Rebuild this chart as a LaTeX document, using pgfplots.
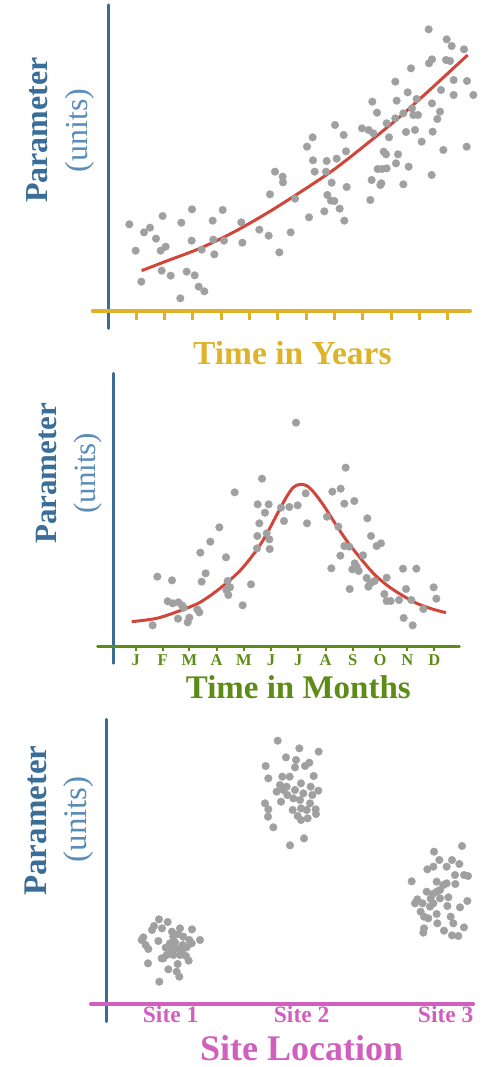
\documentclass[border=0pt]{standalone}
\usepackage{fontspec}
\setmainfont{Liberation Serif}
\usepackage{pgfplots}
\pgfplotsset{compat=1.18}
\definecolor{axblue}{HTML}{3B6C94}
\definecolor{parblue}{HTML}{3A6E98}
\definecolor{unitblue}{HTML}{5B8DB8}
\definecolor{yearcol}{HTML}{DDB32A}
\definecolor{monthcol}{HTML}{5C8C16}
\definecolor{sitecol}{HTML}{D15FBE}
\definecolor{redc}{HTML}{D1463A}
\definecolor{dotgray}{HTML}{A0A0A0}
\pgfplotsset{
  dots/.style={only marks, mark=*, mark size=3.8pt, color=dotgray},
  fitline/.style={smooth, no marks, color=redc, line width=3pt},
  panel/.style={scale only axis, clip=false, axis line style={draw=none}, ytick=\empty, xtick pos=left}
}
\begin{document}
\begin{tikzpicture}
\useasboundingbox (0,0) rectangle (490pt,-1067pt);
% ---------------- Panel 1 ----------------
\begin{axis}[panel, at={(92.667pt,-5pt)}, anchor=north west,
  width=377.333pt, height=306pt,
  xmin=278, xmax=1410, ymin=-933, ymax=-15,
  xtick={408,493,578,663,748,833,918,1003,1088,1173,1258,1343}, xticklabels={},
  tick align=outside, major tick length=9pt,
  xtick style={draw=yearcol, line width=3pt}]
\draw[axblue, line width=3.3pt, line cap=round] (axis cs:325,-15) -- (axis cs:325,-985);
\draw[yearcol, line width=4pt, line cap=round] (axis cs:278,-933) -- (axis cs:1410,-933);
\addplot[dots] coordinates {
(388,-673) (407,-752) (424,-845) (432,-697) (450,-683) (468,-716) (482,-752) (497,-740)
(488,-648) (485,-812) (512,-827) (544,-668) (541,-895) (560,-815) (576,-628) (575,-722)
(584,-826) (596,-860) (605,-749) (613,-874) (638,-662) (643,-763) (640,-719) (668,-630)
(672,-722) (724,-667) (727,-728) (778,-689) (806,-707) (810,-583) (825,-515) (838,-757)
(848,-530) (849,-547) (872,-697) (885,-596) (921,-440) (938,-412) (927,-652) (939,-481)
(944,-515) (973,-634) (980,-483) (978,-515) (982,-585) (995,-548) (993,-602) (1003,-603)
(1005,-375) (1010,-476) (1019,-626) (1031,-405) (1033,-662) (1038,-454) (1040,-561)
(1086,-385) (1106,-390) (1117,-305) (1111,-600) (1115,-540) (1120,-400) (1131,-338)
(1141,-555) (1144,-550) (1133,-507) (1146,-507) (1151,-455) (1158,-463) (1160,-505)
(1160,-370) (1167,-412) (1186,-245) (1190,-302) (1188,-490) (1194,-463) (1186,-355)
(1210,-553) (1218,-396) (1223,-277) (1226,-500) (1233,-205) (1236,-325) (1245,-390)
(1250,-297) (1254,-345) (1265,-425) (1286,-88) (1287,-190) (1296,-178) (1295,-525)
(1298,-395) (1296,-310) (1312,-357) (1320,-335) (1323,-270) (1330,-450) (1340,-118)
(1338,-180) (1350,-183) (1355,-138) (1361,-240) (1361,-285) (1392,-148) (1401,-243)
(1400,-440) (1420,-285) (1210,-340) (1240,-345)
};
\addplot[fitline] coordinates {
(425,-812) (500,-783) (600,-745) (700,-697) (800,-640) (900,-577) (1000,-510)
(1100,-432) (1200,-350) (1300,-260) (1403,-165)
};
\node[anchor=base, text=yearcol, font=\bfseries\fontsize{33.5}{40}\selectfont] at (axis cs:877,-1095) {Time in Years};
\node[rotate=90, anchor=base, text=parblue, font=\bfseries\fontsize{32}{38}\selectfont] at (axis cs:143,-390) {Parameter};
\node[rotate=90, anchor=base, text=unitblue, font=\fontsize{32}{38}\selectfont] at (axis cs:262,-392) {(units)};
\end{axis}
% ---------------- Panel 2 ----------------
\begin{axis}[panel, at={(97.667pt,-373.333pt)}, anchor=north west,
  width=361.667pt, height=272.667pt,
  xmin=293, xmax=1378, ymin=-828, ymax=-10,
  xtick={407,488,568,650,732,813,895,977,1058,1140,1222,1303},
  xticklabels={J,F,M,A,M,J,J,A,S,O,N,D},
  tick align=outside, major tick length=4.5pt,
  xtick style={draw=monthcol, line width=2pt},
  xticklabel style={anchor=base, yshift=-15pt, text=monthcol, font=\bfseries\fontsize{16.5}{19}\selectfont}]
\draw[axblue, line width=2.8pt, line cap=round] (axis cs:340,-10) -- (axis cs:340,-880);
\draw[monthcol, line width=3pt, line cap=round] (axis cs:293,-828) -- (axis cs:1378,-828);
\addplot[dots] coordinates {
(888,-158) (1037,-293) (786,-326) (704,-367) (1022,-356) (997,-365) (917,-370) (1063,-393)
(1033,-401) (773,-403) (806,-403) (795,-428) (843,-413) (868,-411) (893,-406) (852,-453)
(921,-460) (981,-440) (1102,-445) (658,-472) (778,-460) (631,-515) (772,-498) (800,-490)
(808,-508) (1015,-470) (1113,-498) (1130,-528) (1143,-520) (601,-548) (771,-535) (809,-537)
(678,-562) (1033,-528) (1048,-530) (1021,-557) (1089,-556) (617,-610) (605,-635) (994,-595)
(1057,-598) (1064,-580) (1076,-603) (1070,-590) (1249,-596) (1209,-596) (1160,-623)
(1100,-624) (1111,-640) (1124,-633) (1105,-650) (472,-620) (516,-631) (683,-633) (690,-652)
(753,-643) (1049,-657) (1218,-657) (1301,-652) (679,-660) (685,-675) (503,-694) (518,-700)
(535,-697) (546,-706) (551,-713) (592,-718) (598,-727) (1153,-672) (1160,-693) (1172,-693)
(1197,-690) (1234,-690) (1309,-686) (1270,-717) (728,-706) (534,-746) (568,-743) (563,-757)
(1211,-744) (1238,-766) (458,-766)
};
\addplot[fitline] coordinates {
(395,-755) (470,-745) (540,-722) (600,-697) (660,-655) (720,-602) (770,-540) (800,-492)
(830,-435) (860,-380) (880,-352) (900,-343) (920,-347) (940,-365) (970,-405) (1000,-452)
(1040,-512) (1080,-563) (1120,-610) (1160,-645) (1200,-672) (1250,-700) (1300,-718) (1338,-728)
};
\node[anchor=base, text=monthcol, font=\bfseries\fontsize{33}{39}\selectfont] at (axis cs:895,-985) {Time in Months};
\node[rotate=90, anchor=base, text=parblue, font=\bfseries\fontsize{31}{37}\selectfont] at (axis cs:168,-310) {Parameter};
\node[rotate=90, anchor=base, text=unitblue, font=\fontsize{31}{37}\selectfont] at (axis cs:285,-310) {(units)};
\end{axis}
% ---------------- Panel 3 ----------------
\begin{axis}[panel, at={(90.667pt,-719.333pt)}, anchor=north west,
  width=382.667pt, height=284.667pt,
  xmin=272, xmax=1420, ymin=-882, ymax=-28,
  xtick={512,905,1337}, xticklabels={Site 1,Site 2,Site 3},
  major tick length=0pt,
  xticklabel style={anchor=base, yshift=-18pt, text=sitecol, font=\bfseries\fontsize{23.5}{28}\selectfont}]
\draw[axblue, line width=3pt, line cap=round] (axis cs:320,-28) -- (axis cs:320,-935);
\draw[sitecol, line width=3.3pt, line cap=round] (axis cs:272,-882) -- (axis cs:1420,-882);
\addplot[dots] coordinates {
(477,-628) (503,-636) (462,-648) (486,-655) (516,-665) (540,-655) (576,-658) (456,-660)
(430,-682) (475,-693) (520,-680) (550,-680) (600,-690) (568,-690) (437,-705) (445,-717)
(497,-713) (515,-720) (530,-715) (548,-705) (560,-712) (575,-700) (490,-745) (500,-735)
(540,-735) (558,-738) (566,-752) (444,-760) (533,-762) (505,-778) (530,-785) (538,-800)
(478,-815) (510,-700) (525,-697) (485,-745) (425,-690) (546,-722) (520,-735) (535,-672)
};
\addplot[dots] coordinates {
(833,-92) (898,-115) (956,-125) (858,-142) (888,-150) (928,-158) (797,-168) (885,-172)
(915,-168) (941,-198) (805,-205) (847,-200) (869,-200) (903,-220) (932,-230) (955,-242)
(830,-245) (850,-240) (862,-255) (885,-240) (910,-250) (937,-255) (795,-280) (843,-275)
(900,-270) (930,-280) (805,-298) (878,-300) (903,-295) (947,-298) (948,-312) (804,-320)
(903,-330) (923,-325) (820,-352) (912,-385) (870,-406) (840,-225) (860,-230) (880,-265)
(920,-300) (893,-318)
};
\addplot[dots] coordinates {
(1302,-425) (1386,-408) (1318,-450) (1356,-450) (1378,-462) (1282,-478) (1300,-470)
(1340,-470) (1365,-495) (1392,-495) (1404,-498) (1235,-514) (1310,-515) (1340,-520)
(1366,-522) (1330,-525) (1280,-545) (1310,-545) (1298,-552) (1320,-540) (1252,-568)
(1292,-566) (1345,-562) (1402,-573) (1245,-580) (1268,-580) (1300,-580) (1342,-588)
(1380,-592) (1262,-605) (1272,-620) (1310,-612) (1352,-620) (1285,-625) (1312,-640)
(1360,-640) (1392,-652) (1272,-655) (1332,-662) (1270,-668) (1356,-676) (1375,-678)
(1290,-590) (1320,-565)
};
\node[anchor=base, text=sitecol, font=\bfseries\fontsize{36}{42}\selectfont] at (axis cs:905,-1052) {Site Location};
\node[rotate=90, anchor=base, text=parblue, font=\bfseries\fontsize{33}{39}\selectfont] at (axis cs:138,-332) {Parameter};
\node[rotate=90, anchor=base, text=unitblue, font=\fontsize{33}{39}\selectfont] at (axis cs:258,-328) {(units)};
\end{axis}
\end{tikzpicture}
\end{document}
